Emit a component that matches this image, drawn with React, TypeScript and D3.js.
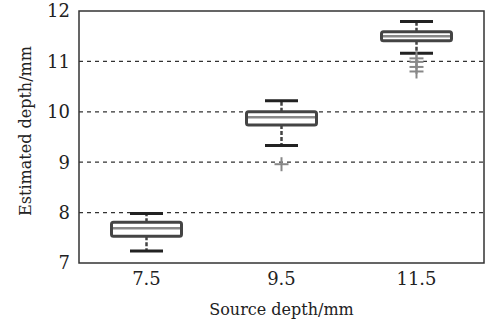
import React from "react";
import * as d3 from "d3";

const categories = ["7.5", "9.5", "11.5"];
const q1 = [7.53, 9.74, 11.41];
const medians = [7.69, 9.89, 11.5];
const q3 = [7.81, 10.0, 11.59];
const whiskerLow = [7.24, 9.33, 11.16];
const whiskerHigh = [7.98, 10.22, 11.79];
const outliers: number[][] = [[], [8.96], [11.06, 10.99, 10.89, 10.8]];
const yTicks = [7, 8, 9, 10, 11, 12];
const gridTicks = [8, 9, 10, 11];

const W = 487;
const H = 322;
const m = { left: 79, right: 3, top: 11, bottom: 59 };

export default function App() {
  const x = d3
    .scaleBand<string>()
    .domain(categories)
    .range([m.left, W - m.right])
    .padding(0);
  const y = d3.scaleLinear().domain([7, 12]).range([H - m.bottom, m.top]);
  const boxW = 70;
  const capW = 33;
  const font = "'DejaVu Serif', 'Liberation Serif', serif";
  return (
    <svg
      width={W}
      height={H}
      style={{ position: "absolute", left: 0, top: 0, background: "#fff" }}
    >
      {gridTicks.map((t) => (
        <line
          key={t}
          x1={m.left}
          x2={W - m.right}
          y1={y(t)}
          y2={y(t)}
          stroke="#333"
          strokeWidth={1.3}
          strokeDasharray="4 4"
        />
      ))}
      {categories.map((c, i) => {
        const cx = x(c)! + x.bandwidth() / 2;
        return (
          <g key={c}>
            <line
              x1={cx}
              x2={cx}
              y1={y(q3[i])}
              y2={y(whiskerHigh[i])}
              stroke="#444"
              strokeWidth={2.5}
              strokeDasharray="4 2"
            />
            <line
              x1={cx}
              x2={cx}
              y1={y(q1[i])}
              y2={y(whiskerLow[i])}
              stroke="#444"
              strokeWidth={2.5}
              strokeDasharray="4 2"
            />
            <line
              x1={cx - capW / 2}
              x2={cx + capW / 2}
              y1={y(whiskerHigh[i])}
              y2={y(whiskerHigh[i])}
              stroke="#222"
              strokeWidth={3}
            />
            <line
              x1={cx - capW / 2}
              x2={cx + capW / 2}
              y1={y(whiskerLow[i])}
              y2={y(whiskerLow[i])}
              stroke="#222"
              strokeWidth={3}
            />
            <rect
              x={cx - boxW / 2}
              y={y(q3[i])}
              width={boxW}
              height={y(q1[i]) - y(q3[i])}
              fill="#fff"
              stroke="#444"
              strokeWidth={3}
              rx={2}
            />
            <line
              x1={cx - boxW / 2 + 1.5}
              x2={cx + boxW / 2 - 1.5}
              y1={y(medians[i])}
              y2={y(medians[i])}
              stroke="#888"
              strokeWidth={2.5}
            />
            {outliers[i].map((o, j) => (
              <g key={j} stroke="#888" strokeWidth={2}>
                <line x1={cx - 7} x2={cx + 7} y1={y(o)} y2={y(o)} />
                <line x1={cx} x2={cx} y1={y(o) - 7} y2={y(o) + 7} />
              </g>
            ))}
          </g>
        );
      })}
      <rect
        x={m.left}
        y={m.top}
        width={W - m.left - m.right}
        height={H - m.top - m.bottom}
        fill="none"
        stroke="#333"
        strokeWidth={1.5}
      />
      {yTicks.map((t) => (
        <text
          key={t}
          x={m.left - 9}
          y={y(t)}
          dy="0.36em"
          textAnchor="end"
          fontFamily={font}
          fontSize={18}
          fill="#222"
        >
          {t}
        </text>
      ))}
      {categories.map((c) => (
        <text
          key={c}
          x={x(c)! + x.bandwidth() / 2}
          y={285}
          textAnchor="middle"
          fontFamily={font}
          fontSize={18}
          fill="#222"
        >
          {c}
        </text>
      ))}
      <text
        x={(m.left + W - m.right) / 2}
        y={315}
        textAnchor="middle"
        fontFamily={font}
        fontSize={16}
        fill="#222"
      >
        Source depth/mm
      </text>
      <text
        transform={`translate(31, 131) rotate(-90)`}
        textAnchor="middle"
        fontFamily={font}
        fontSize={16}
        fill="#222"
      >
        Estimated depth/mm
      </text>
    </svg>
  );
}
